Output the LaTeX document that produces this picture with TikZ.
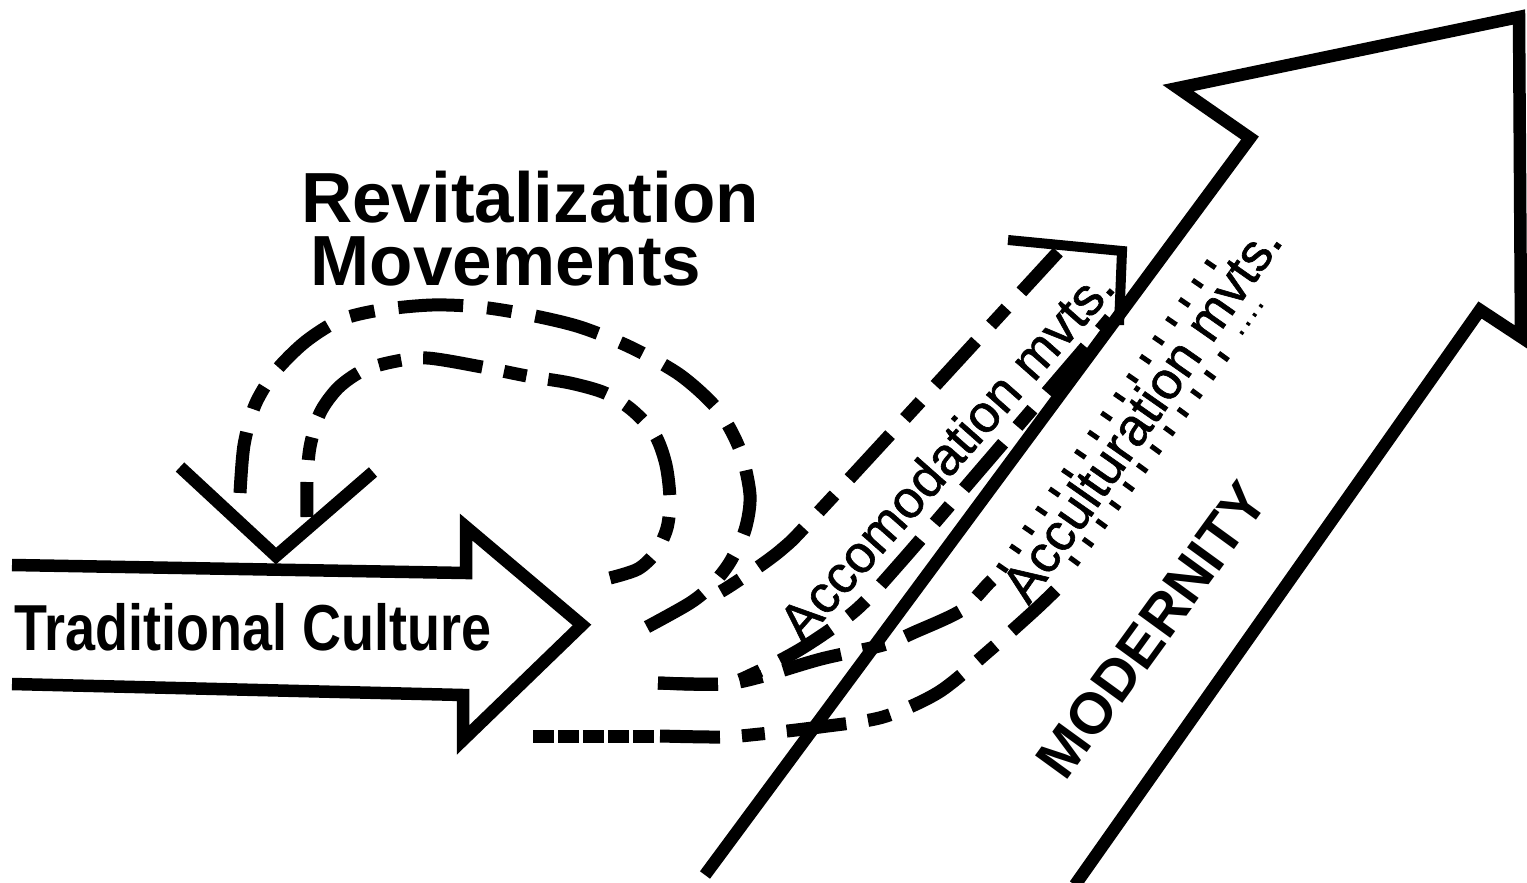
\documentclass[tikz,border=0pt]{standalone}
\usepackage{fontspec}
\setmainfont{Liberation Sans}
\newfontfamily\scanfont{Liberation Sans}[FakeBold=1.2]
\tikzset{
     shaft/.style={line width=0.25cm},
     tipline/.style={line width=0.2cm},
     mvt/.style={line width=0.26cm, dash pattern=on 1.2cm off 0.44cm on 0.46cm off 0.44cm},
     tickline/.style={line width=0.24cm, dash pattern=on 0.1cm off 0.36cm},
     dotline/.style={line width=0.08cm, dash pattern=on 0.06cm off 0.16cm},
     headline/.style={font=\fontsize{40.4}{48}\selectfont\bfseries, inner sep=0pt, anchor=base},
     sidelabel/.style={font=\fontsize{30}{36}\selectfont\scanfont, inner sep=0pt}
     }
\usetikzlibrary{positioning}

\begin{document}
\begin{tikzpicture}[x=0.02cm, y=-0.02cm]
                    \useasboundingbox (0,0) rectangle (1527,882);
                    % Place nodes
                    \node [headline] (revText) at (530,222) {Revitalization};
                    \node [headline] (movText) at (506,285) {Movements};
                    \node [headline, font=\fontsize{37}{44}\selectfont\bfseries, xscale=0.83] (tradText) at (253,650) {Traditional Culture};
                    \node [sidelabel, rotate=48.5] (accomText) at (946,454) {Accomodation mvts.};
                    \node [sidelabel, rotate=55] (accultText) at (1141,413) {Acculturation mvts.};
                    \node [sidelabel, font=\fontsize{33}{40}\selectfont\bfseries, rotate=54] (modText) at (1152,630) {MODERNITY};
                    % Place end points
                    \coordinate (tradTip) at (582,625);
                    \coordinate (vTip) at (276,556);
                    \coordinate (accomTip) at (1122,251);
                    \coordinate (outerEnd) at (647,627);
                    \coordinate (innerEnd) at (610,578);
                    \coordinate (midStart) at (658,683);
                    \coordinate (lowStart) at (660,736);
                    % Draw arrows
                    \draw [shaft] (12,565) -- (466,573) -- (466,527) -- (tradTip) -- (463,740) -- (463,695) -- (12,684);
                    \draw [shaft] (180,467) -- (vTip) -- (373,472);
                    \draw [shaft] (705,875) -- (1250,138) -- (1178,88) -- (1519,17) -- (1521,337) -- (1480,310) -- (1075,885);
                    \draw [tipline] (1008,240) -- (accomTip) -- (1119,325);
                    % Draw movements
                    \draw [mvt, dash pattern=on 1.3cm off 0.48cm on 0.5cm off 0.48cm] plot [smooth] coordinates {(outerEnd) (690,603) (712,585) (730,562) (745,530) (750,495) (740,450) (718,410) (680,375) (630,347) (580,327) (530,315) (480,307) (432,305) (380,310) (340,320) (305,342) (275,372) (255,405) (244,445) (240,493)};
                    \draw [mvt, dash phase=0.5cm] plot [smooth] coordinates {(307,517) (307,482) (310,447) (320,413) (338,388) (362,371) (392,362) (427,358) (482,367) (527,376) (570,383) (605,393) (632,410) (655,435) (666,465) (670,500) (667,528) (656,552) (638,569) (innerEnd)};
                    \draw [mvt, dash phase=1.28cm] plot [smooth] coordinates {(705,600) (730,586) (781,550) (827,503) (1058,252)};
                    \draw [mvt] plot [smooth] coordinates {(midStart) (723,684) (755,673) (804,647) (856,610) (900,563) (987,462) (1083,350) (1110,318)};
                    \draw [mvt] plot [smooth] coordinates {(midStart) (723,684) (760,677) (821,659) (883,645) (915,632) (962,610) (989,583) (1003,570)};
                    \draw [tickline] (1001,570) -- (1219,252);
                    \draw [mvt, dash pattern=on 0.42cm off 0.08cm] (533,736) -- (656,736);
                    \draw [mvt] plot [smooth] coordinates {(lowStart) (722,737) (760,734) (820,727) (883,717) (939,692) (990,650) (1035,610) (1060,586)};
                    \draw [tickline] (1073,563) -- (1232,345);
                    \draw [dotline] (1241,334) -- (1266,299);
                \end{tikzpicture}
\end{document}
